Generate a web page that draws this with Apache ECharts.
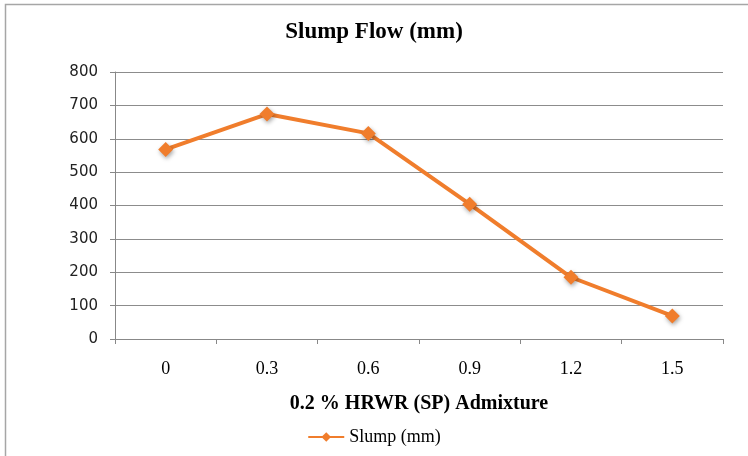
<!DOCTYPE html>
<html>
<head>
<meta charset="utf-8">
<script src="https://cdn.jsdelivr.net/npm/echarts@6/dist/echarts.min.js"></script>
<style>
  html, body { margin: 0; padding: 0; background: #fff; }
  #chart { width: 748px; height: 456px; }
</style>
</head>
<body>
<div id="chart"></div>
<script>
// data
var categories = ['0', '0.3', '0.6', '0.9', '1.2', '1.5'];
var slump = [568, 674, 616, 404, 185, 69];
var seriesName = 'Slump (mm)';

var myChart = echarts.init(document.getElementById('chart'));
var lineColor = '#f07d2c';
var option = {
    animation: false,
    backgroundColor: '#fff',
    graphic: [{
        type: 'rect',
        shape: { x: 5.5, y: 4.5, width: 760, height: 470 },
        style: { fill: 'none', stroke: '#a6a6a6', lineWidth: 1.5 },
        silent: true
    }],
    title: {
        text: 'Slump Flow (mm)',
        left: 'center',
        top: 16,
        textStyle: {
            fontFamily: 'Liberation Serif',
            fontWeight: 'bold',
            fontSize: 23,
            color: '#000'
        }
    },
    legend: {
        data: [seriesName],
        bottom: 5,
        left: 'center',
        itemWidth: 36,
        itemHeight: 12,
        itemGap: 3,
        textStyle: {
            fontFamily: 'Liberation Serif',
            fontSize: 18,
            color: '#000'
        }
    },
    grid: {
        left: 115,
        right: 25,
        top: 72,
        bottom: 117,
        containLabel: false
    },
    xAxis: {
        type: 'category',
        data: categories,
        boundaryGap: true,
        name: '0.2 % HRWR (SP) Admixture',
        nameLocation: 'middle',
        nameGap: 55,
        nameTextStyle: {
            fontFamily: 'Liberation Serif',
            fontWeight: 'bold',
            fontSize: 20,
            color: '#000'
        },
        axisLine: { lineStyle: { color: '#888', width: 1 } },
        axisTick: { show: true, length: 5, lineStyle: { color: '#888' } },
        axisLabel: {
            margin: 21,
            fontFamily: 'Liberation Serif',
            fontSize: 18,
            color: '#000'
        },
        splitLine: { show: false }
    },
    yAxis: {
        type: 'value',
        min: 0,
        max: 800,
        interval: 100,
        axisLine: { show: true, lineStyle: { color: '#888', width: 1 } },
        axisTick: { show: true, length: 5, lineStyle: { color: '#888' } },
        axisLabel: {
            margin: 17,
            fontFamily: 'DejaVu Sans',
            fontSize: 15,
            color: '#222'
        },
        splitLine: { lineStyle: { color: '#8c8c8c', width: 1 } }
    },
    series: [{
        name: seriesName,
        type: 'line',
        data: slump,
        symbol: 'diamond',
        symbolSize: 15,
        lineStyle: { color: lineColor, width: 4 },
        itemStyle: {
            color: lineColor,
            shadowColor: 'rgba(0,0,0,0.35)',
            shadowBlur: 4,
            shadowOffsetX: 1,
            shadowOffsetY: 2
        }
    }]
};
myChart.setOption(option);
</script>
</body>
</html>
